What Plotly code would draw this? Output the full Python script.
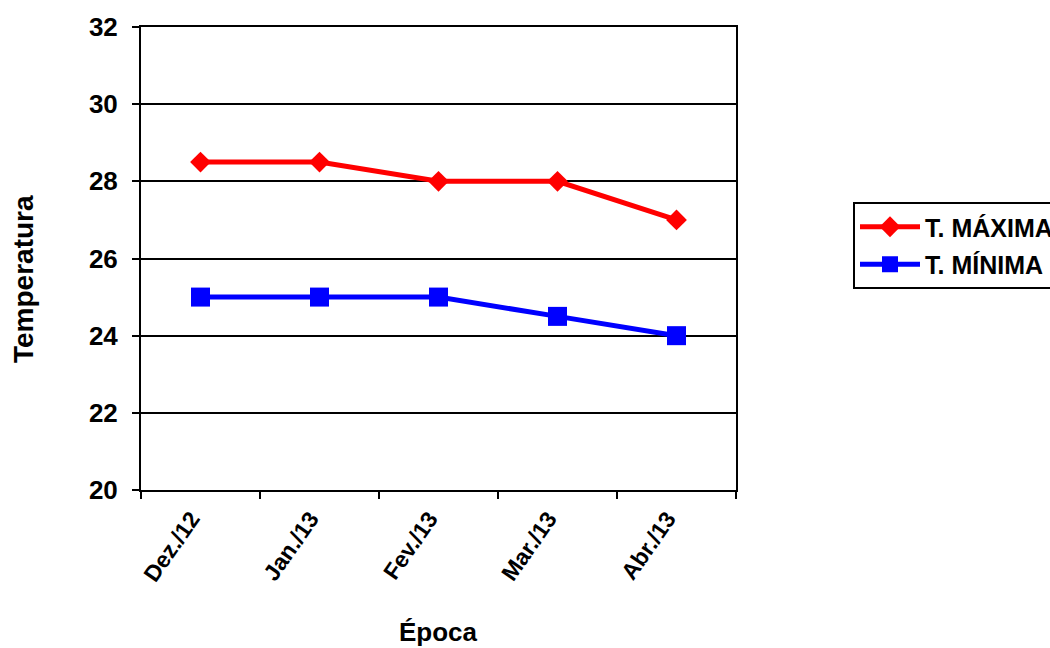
import plotly.graph_objects as go

categories = ["Dez./12", "Jan./13", "Fev./13", "Mar./13", "Abr./13"]
t_max = [28.5, 28.5, 28.0, 28.0, 27.0]
t_min = [25.0, 25.0, 25.0, 24.5, 24.0]

FONT = "Liberation Sans, Arial, sans-serif"

L, R, T, B = 141, 314, 27, 158
W, H = 1050, 648
PW, PH = W - L - R, H - T - B

fig = go.Figure()
fig.add_trace(go.Scatter(
    x=categories, y=t_max, name="T. MÁXIMA", mode="lines+markers",
    line=dict(color="#ff0000", width=5),
    marker=dict(symbol="diamond", size=16, color="#ff0000"),
    legendgroup="a",
))
fig.add_trace(go.Scatter(
    x=categories, y=t_min, name="T. MÍNIMA", mode="lines+markers",
    line=dict(color="#0000ff", width=5),
    marker=dict(symbol="square", size=19, color="#0000ff"),
    legendgroup="b",
))

fig.update_layout(
    width=W, height=H,
    margin=dict(l=L, r=R, t=T, b=B, autoexpand=False),
    paper_bgcolor="white", plot_bgcolor="white",
    font=dict(family=FONT, color="black"),
    showlegend=True,
    legend=dict(
        x=(853 - L) / PW, y=(H - B - 202) / PH, xanchor="left", yanchor="top",
        bordercolor="black", borderwidth=2,
        font=dict(family=FONT, size=25, color="black", weight="bold"),
        itemwidth=60, traceorder="grouped", tracegroupgap=2,
    ),
    xaxis=dict(
        type="category", range=[-0.5, len(categories) - 0.5],
        tickson="boundaries", ticks="outside", ticklen=7,
        tickwidth=2, tickcolor="black",
        showline=True, linecolor="black", linewidth=2, mirror=True,
        showgrid=False, tickangle=-55, automargin=False,
        tickfont=dict(family=FONT, size=23, weight="bold"),
        ticklabelstandoff=4, ticklabelshift=-9,
    ),
    yaxis=dict(
        range=[20, 32], dtick=2, ticks="outside", ticklen=7, tickwidth=2,
        tickcolor="black", showline=True, linecolor="black", linewidth=2,
        mirror=True, showgrid=True, gridcolor="black", gridwidth=2,
        zeroline=False, ticklabelstandoff=9, automargin=False,
        tickfont=dict(family=FONT, size=26, weight="bold"),
    ),
    annotations=[
        dict(text="<b>Época</b>", xref="paper", yref="paper",
             x=0.5, y=(H - B - 632) / PH, xanchor="center", yanchor="middle",
             showarrow=False, font=dict(family=FONT, size=26, color="black")),
        dict(text="<b>Temperatura</b>", xref="paper", yref="paper",
             x=(23 - L) / PW, y=(H - B - 279) / PH, xanchor="center", yanchor="middle",
             textangle=-90, showarrow=False,
             font=dict(family=FONT, size=28, color="black")),
    ],
)

fig.write_html("out.html", config={"displayModeBar": False},
               post_script="document.body.style.margin='0';")
